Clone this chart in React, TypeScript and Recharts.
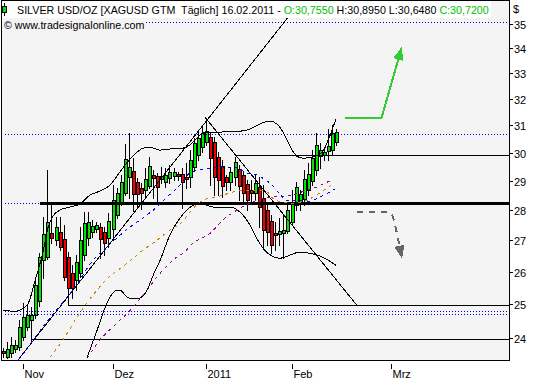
import React from "react";
import { ComposedChart, Bar, Line, XAxis, YAxis, ReferenceLine } from "recharts";

// daily bars, 25.10.2010 .. 16.02.2011 (index 0 = first visible bar)
const opens = [
  23.63, 23.46, 23.57, 23.69, 23.74, 24.03, 24.32, 24.53, 24.68, 25.1,
  26.36, 26.46, 27.23, 27.0, 27.27, 27.03, 26.46, 25.95, 25.74, 25.95,
  26.52, 27.07, 27.27, 27.37, 27.43, 27.27, 27.07, 27.37, 27.83, 28.19,
  28.58, 29.13, 29.34, 28.95, 28.75, 28.68, 28.82, 29.2, 29.16, 29.06,
  28.95, 29.09, 29.16, 29.24, 29.24, 29.13, 29.13, 29.48, 29.91, 30.2,
  30.38, 30.57, 30.38, 29.84, 29.52, 29.13, 28.95, 29.13, 29.41, 29.2,
  28.88, 28.68, 28.58, 28.78, 28.4, 28.0, 27.63, 27.23, 27.2, 27.23,
  27.3, 27.6, 28.16, 28.23, 28.37, 28.68, 28.99, 29.38, 29.87, 29.91,
  30.05, 30.09, 30.4,
];
const highs = [
  23.72, 23.89, 24.03, 23.95, 24.53, 25.03, 24.97, 24.91, 25.74, 26.59,
  27.76, 29.38, 28.19, 27.76, 27.76, 27.5, 26.62, 26.2, 26.52, 27.43,
  27.93, 27.93, 27.66, 27.6, 27.56, 27.43, 27.9, 28.85, 28.75, 29.2,
  30.31, 30.71, 29.8, 29.09, 28.92, 29.45, 29.84, 29.38, 29.27, 29.48,
  29.45, 29.55, 29.45, 29.31, 29.45, 29.62, 30.09, 30.53, 30.75, 30.93,
  31.2, 30.71, 30.57, 30.02, 29.73, 29.2, 29.48, 29.84, 29.55, 29.31,
  29.02, 29.02, 29.2, 29.13, 28.85, 28.26, 27.83, 27.6, 27.73, 27.83,
  28.23, 28.68, 28.95, 28.68, 29.38, 29.62, 30.09, 30.71, 30.35, 30.16,
  30.86, 31.0, 30.86,
];
const lows = [
  23.46, 23.43, 23.46, 23.6, 23.66, 23.95, 24.23, 23.95, 24.59, 24.94,
  25.8, 26.39, 26.9, 26.84, 26.68, 25.74, 24.97, 25.19, 25.43, 25.83,
  26.36, 26.84, 27.1, 27.27, 26.42, 26.52, 26.78, 27.0, 27.73, 28.16,
  28.51, 28.4, 27.96, 28.06, 28.03, 28.44, 28.75, 28.4, 28.26, 28.92,
  28.78, 28.92, 29.02, 29.02, 28.06, 28.75, 28.78, 29.38, 29.73, 30.02,
  30.27, 28.85, 28.51, 28.51, 28.44, 28.68, 28.68, 28.85, 28.33, 28.23,
  28.0, 28.23, 28.33, 27.43, 26.71, 26.84, 26.58, 26.68, 26.84, 26.42,
  27.23, 27.5, 28.0, 28.0, 28.16, 28.51, 28.85, 29.2, 29.45, 29.73,
  29.73, 29.91, 30.27,
];
const closes = [
  23.58, 23.69, 23.8, 23.8, 24.32, 24.62, 24.68, 24.68, 25.58, 26.46,
  27.2, 27.6, 27.07, 27.43, 26.78, 25.83, 25.49, 25.49, 26.3, 27.0,
  27.56, 27.6, 27.46, 27.5, 27.03, 26.9, 27.63, 28.33, 28.58, 28.95,
  29.77, 29.48, 28.54, 28.54, 28.58, 29.06, 29.52, 29.09, 28.78, 29.16,
  29.2, 29.31, 29.31, 29.16, 28.95, 29.06, 29.73, 30.35, 30.53, 30.71,
  30.78, 29.8, 29.13, 29.02, 28.82, 28.95, 29.31, 29.66, 28.82, 28.58,
  28.33, 28.58, 28.92, 28.1, 27.33, 27.27, 26.84, 27.17, 27.3, 27.33,
  28.0, 28.26, 28.78, 28.54, 29.06, 29.24, 29.8, 30.27, 30.09, 30.02,
  30.23, 30.71, 30.75,
];

const monthTicks = [5, 27, 50, 71, 95.4];
const monthLabels = ["Nov", "Dez", "2011", "Feb", "Mrz"];
const priceTicks = [24, 25, 26, 27, 28, 29, 30, 31, 32, 33, 34, 35];

// indicator lines: [bar index, price]
const bbUpper = [
  [0, 24.82], [3, 24.79], [6, 24.97], [8, 25.74], [10, 26.68], [11.1, 27.4],
  [12.4, 27.8], [14.1, 28.0], [16.5, 28.1], [19, 28.2], [21.5, 28.51], [24, 28.65],
  [26.4, 28.85], [28.8, 29.31], [31.3, 29.77], [34.5, 30.16], [36.2, 30.2],
  [38.6, 30.09], [41.1, 30.13], [44.3, 30.16], [46, 30.27], [47.7, 30.53],
  [49.2, 30.71], [50.2, 30.75], [53.4, 30.75], [58.3, 30.78], [60.8, 30.86],
  [63.2, 31.05], [65.7, 31.16], [67.4, 31.05], [68.9, 30.75], [70.6, 30.24],
  [72.3, 29.87], [73.8, 29.8], [76.2, 29.84], [78.7, 30.05], [80.4, 30.6], [81.9, 31.23],
];
const bbLower = [
  [20.7, 23.43], [23.2, 24.23], [25.6, 25.03], [27.6, 25.4], [28.8, 25.43],
  [30.5, 25.22], [32, 25.16], [33.7, 25.19], [35.5, 25.43], [37, 25.89],
  [38.7, 26.36], [41.1, 27.17], [43.6, 27.73], [45.3, 28.0], [46.8, 28.16],
  [48.5, 28.23], [50.2, 28.16], [51.7, 28.1], [55.9, 28.1], [58.3, 27.93],
  [60.8, 27.5], [62.7, 27.0], [64.4, 26.68], [66.2, 26.49], [68.1, 26.42],
  [70.6, 26.52], [73, 26.62], [75.5, 26.58], [78, 26.49], [80.4, 26.33], [81.9, 26.2],
];
const maBlue = [
  [3.8, 23.38], [11.6, 24.59], [17.8, 25.52], [22.2, 26.36], [25.6, 26.78],
  [31.3, 27.43], [33.7, 27.66], [37.9, 28.1], [40.4, 28.44], [43.6, 28.85],
  [46, 29.27], [48.5, 29.38], [51.7, 29.45], [55.1, 29.48], [57.6, 29.45],
  [60, 29.27], [62.5, 29.2], [64.7, 29.02], [66.2, 28.85], [67.7, 28.61],
  [69.9, 28.33], [72.3, 28.33], [75.5, 28.3], [78, 28.44], [80.4, 28.61], [82, 28.75],
];
const maOrange = [
  [11.6, 23.46], [14.8, 23.95], [18.3, 24.62], [22.2, 25.28], [26.4, 25.86],
  [30, 26.2], [34.5, 26.68], [37.9, 27.0], [41.1, 27.33], [44.1, 27.6],
  [46, 27.93], [49.2, 28.33], [52.7, 28.44], [55.9, 28.58], [59.1, 28.68],
  [62.5, 28.68], [65, 28.61], [66.4, 28.4], [68.9, 28.26], [71.3, 28.23],
  [74.8, 28.33], [77.2, 28.51], [79.7, 28.75], [81.4, 28.92],
];
const maPurple = [
  [20.7, 23.43], [23.9, 23.95], [28.1, 24.44], [32, 24.91], [35.5, 25.43],
  [38.7, 25.95], [42.8, 26.46], [44.3, 26.58], [46.8, 26.9], [51, 27.23],
  [54.1, 27.66], [57.6, 28.0], [60.8, 28.23], [64, 28.4], [66.4, 28.44],
  [68.9, 28.47], [71.3, 28.51], [74.8, 28.68], [77.2, 28.78], [79.7, 28.95], [81.2, 29.02],
];

// drawn lines: [fromIndex, price] pairs
const supportLevels = [[7, 23.95], [16, 24.95], [57, 29.9]];
const thickLevel = [9.2, 28.22];
const dottedLevels = [35.08, 30.66, 28.22, 24.79, 24.7];
const trendUp = [[3.76, 23.38], [73.5, 36.04]];
const trendDown = [[49.7, 31.31], [87.05, 24.97]];
const greenArrow = [[84.1, 31.26], [93.1, 31.26], [98, 34.0]];
const greyArrow = [[87.05, 27.94], [94.4, 27.94], [95.7, 27.83], [96.6, 27.4], [98.1, 26.46]];

const X_END = 124.46;
const FONT = '"Liberation Sans", Arial, sans-serif';
const UP = "#00e400";
const DOWN = "#ee0000";

const toPts = (arr: number[][]) => arr.map(([i, v]) => ({ i, v }));

function Candle(props: any) {
  const { x, y, width, height, payload } = props;
  if (x == null || !payload) return <g />;
  const top = Math.min(y, y + height);
  const bot = Math.max(y, y + height);
  const lh = Math.log(payload.h);
  const ll = Math.log(payload.l);
  const at = (v: number) => (lh > ll ? top + ((bot - top) * (lh - Math.log(v))) / (lh - ll) : top);
  const cx = Math.round(x + width / 2);
  const bTop = Math.round(at(Math.max(payload.o, payload.c)));
  const bBot = Math.max(Math.round(at(Math.min(payload.o, payload.c))), bTop + 1);
  return (
    <g>
      <line x1={cx + 0.5} x2={cx + 0.5} y1={Math.round(top)} y2={Math.round(bot) + 1} stroke="#000" />
      <rect x={cx - 0.5} y={bTop + 0.5} width={3} height={bBot - bTop} fill={payload.c >= payload.o ? UP : DOWN} stroke="#000" />
    </g>
  );
}

function arrowHead(color: string, count: number, fallbackAngle: number) {
  return (props: any) => {
    const { cx, cy, index, points } = props;
    if (index !== count - 1) return <g key={index} />;
    let ang = fallbackAngle;
    if (points && points[index - 1]) {
      ang = Math.atan2(cy - points[index - 1].y, cx - points[index - 1].x);
    }
    const len = 11;
    const half = 4.5;
    const bx = cx - len * Math.cos(ang);
    const by = cy - len * Math.sin(ang);
    const px = -Math.sin(ang) * half;
    const py = Math.cos(ang) * half;
    return (
      <polygon
        key={index}
        points={`${cx},${cy} ${bx + px},${by + py} ${bx - px},${by - py}`}
        fill={color}
        stroke={color}
      />
    );
  };
}

function MonthTick(props: any) {
  const { x, y, payload } = props;
  const label = monthLabels[monthTicks.indexOf(payload.value)];
  const px = Math.round(x) + 0.5;
  return (
    <g>
      <line x1={px} x2={px} y1={y + 4} y2={y + 9} stroke="#000" />
      <text x={px + 1} y={y + 18} fontSize={11} fontFamily={FONT} fill="#000">
        {label}
      </text>
    </g>
  );
}

function PriceTick(props: any) {
  const { x, y, payload } = props;
  const py = Math.round(y) + 0.5;
  return (
    <g>
      <line x1={x + 1} x2={x + 4} y1={py} y2={py} stroke="#000" />
      <text x={x + 5} y={py + 4} fontSize={11} fontFamily={FONT} fill="#000">
        {payload.value}
      </text>
    </g>
  );
}

export default function App() {
  const candles = opens.map((o, i) => ({ i, o, h: highs[i], l: lows[i], c: closes[i] }));

  return (
    <div className="tschart" style={{ position: "absolute", left: 0, top: 0, width: 533, height: 380, background: "#fff", fontFamily: FONT }}>
      <style>{`.tschart svg path, .tschart svg line, .tschart svg rect, .tschart svg polygon { shape-rendering: crispEdges; }`}</style>
      <div style={{ position: "absolute", left: 1, top: 0, width: 509, height: 361, background: "#f4f4f4" }} />
      <div style={{ position: "absolute", left: 0, top: 0 }}>
        <ComposedChart width={533} height={380} data={candles} margin={{ top: 0, right: 0, bottom: 0, left: 1 }}>
          <XAxis
            dataKey="i"
            type="number"
            domain={[-0.418, X_END]}
            allowDataOverflow
            ticks={monthTicks}
            interval={0}
            height={20}
            tick={<MonthTick />}
            tickLine={false}
            axisLine={false}
            tickSize={0}
            tickMargin={0}
          />
          <YAxis
            orientation="right"
            type="number"
            scale="log"
            domain={[23.38, 36.04]}
            allowDataOverflow
            ticks={priceTicks}
            interval={0}
            width={24}
            tick={<PriceTick />}
            tickLine={false}
            axisLine={false}
            tickSize={0}
            tickMargin={0}
          />

          {dottedLevels.map((v) => (
            <ReferenceLine key={"d" + v} segment={[{ x: 0.5, y: v }, { x: X_END, y: v }]} stroke="#0000dd" strokeDasharray="1 2" ifOverflow="hidden" />
          ))}
          {supportLevels.map(([i, v]) => (
            <ReferenceLine key={"s" + v} segment={[{ x: i, y: v }, { x: X_END, y: v }]} stroke="#000" ifOverflow="hidden" />
          ))}
          <ReferenceLine segment={[{ x: thickLevel[0], y: thickLevel[1] }, { x: X_END, y: thickLevel[1] }]} stroke="#000" strokeWidth={3} ifOverflow="hidden" />
          <ReferenceLine segment={[{ x: trendUp[0][0], y: trendUp[0][1] }, { x: trendUp[1][0], y: trendUp[1][1] }]} stroke="#000" ifOverflow="hidden" />
          <ReferenceLine segment={[{ x: trendDown[0][0], y: trendDown[0][1] }, { x: trendDown[1][0], y: trendDown[1][1] }]} stroke="#000" ifOverflow="hidden" />

          <Line data={toPts(maPurple)} dataKey="v" type="monotone" stroke="#990099" strokeDasharray="3 4" dot={false} isAnimationActive={false} />
          <Line data={toPts(maOrange)} dataKey="v" type="monotone" stroke="#c88600" strokeDasharray="3 4" dot={false} isAnimationActive={false} />
          <Line data={toPts(maBlue)} dataKey="v" type="monotone" stroke="#0000ff" strokeDasharray="3 4" dot={false} isAnimationActive={false} />
          <Line data={toPts(bbUpper)} dataKey="v" type="monotone" stroke="#000" dot={false} isAnimationActive={false} />
          <Line data={toPts(bbLower)} dataKey="v" type="monotone" stroke="#000" dot={false} isAnimationActive={false} />

          <Bar dataKey={(d: any) => [d.l, d.h]} barSize={4} shape={(p: any) => <Candle {...p} />} isAnimationActive={false} />

          <Line
            data={toPts(greenArrow)}
            dataKey="v"
            type="linear"
            stroke="#33cc33"
            strokeWidth={2}
            dot={arrowHead("#33cc33", greenArrow.length, -1.29)}
            isAnimationActive={false}
          />
          <Line
            data={toPts(greyArrow)}
            dataKey="v"
            type="monotone"
            stroke="#666"
            strokeWidth={2}
            strokeDasharray="6 6"
            dot={arrowHead("#666", greyArrow.length, 1.4)}
            isAnimationActive={false}
          />
        </ComposedChart>
      </div>

      {/* frame */}
      <div style={{ position: "absolute", left: 1, top: 0, width: 509, height: 361, border: "1px solid #000", boxSizing: "border-box", pointerEvents: "none" }} />

      {/* title box */}
      <div style={{ position: "absolute", left: 2, top: 1, width: 489, height: 17, background: "#fff" }} />
      <svg style={{ position: "absolute", left: 2, top: 3 }} width={6} height={13}>
        <line x1={2.5} x2={2.5} y1={0} y2={13} stroke="#000" />
        <rect x={0.5} y={3.5} width={4} height={6} fill={UP} stroke="#000" />
      </svg>
      <div style={{ position: "absolute", left: 17, top: 3, fontSize: 10.7, lineHeight: "14px", whiteSpace: "pre", color: "#000" }}>
        {"SILVER USD/OZ [XAGUSD GTM  Täglich] 16.02.2011 - "}
        <span style={{ color: "#00c000" }}>O:30,7550</span>
        {" H:30,8950 L:30,6480 "}
        <span style={{ color: "#00c000" }}>C:30,7200</span>
      </div>
      <div style={{ position: "absolute", left: 4, top: 19, fontSize: 10.7, lineHeight: "13px", whiteSpace: "pre", color: "#000", background: "#f4f4f4" }}>
        © www.tradesignalonline.com
      </div>
      <div style={{ position: "absolute", left: 513, top: 2, fontSize: 11, lineHeight: "14px", color: "#000" }}>$</div>
    </div>
  );
}
